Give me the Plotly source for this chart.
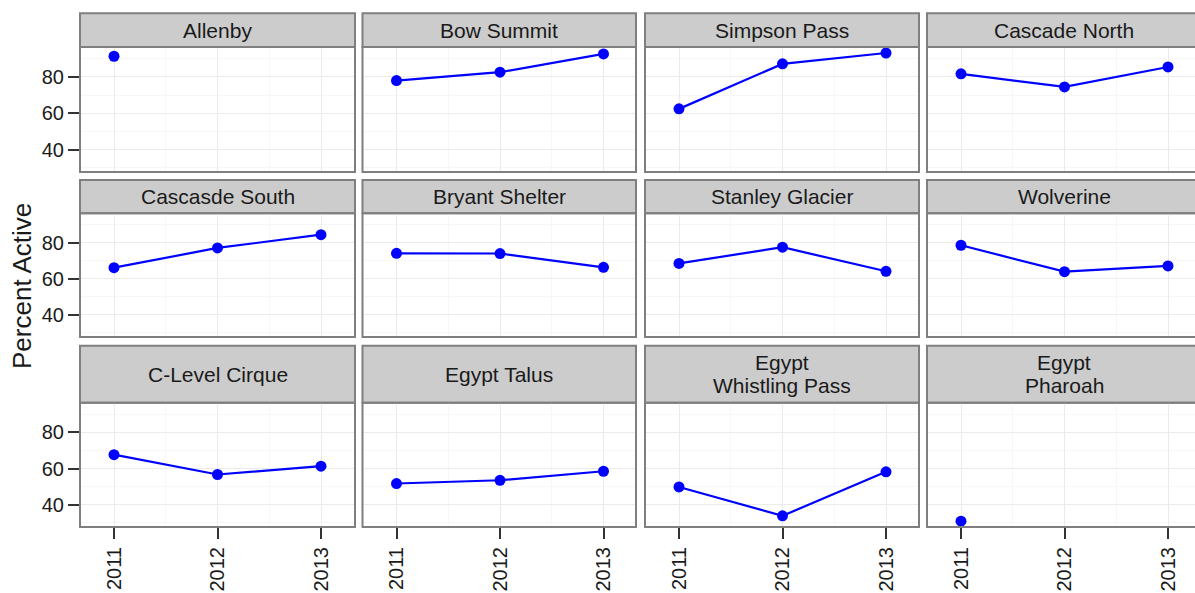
import plotly.graph_objects as go

# ---- data -------------------------------------------------------------
years = [2011, 2012, 2013]

site_names = [
    "Allenby", "Bow Summit", "Simpson Pass", "Cascade North",
    "Cascasde South", "Bryant Shelter", "Stanley Glacier", "Wolverine",
    "C-Level Cirque", "Egypt Talus", "Egypt\nWhistling Pass", "Egypt\nPharoah",
]

allenby = [91.4, None, None]
bow_summit = [78.0, 82.6, 92.7]
simpson_pass = [62.4, 87.2, 93.2]
cascade_north = [81.7, 74.5, 85.5]
cascade_south = [66.2, 77.2, 84.6]
bryant_shelter = [74.2, 74.1, 66.4]
stanley_glacier = [68.6, 77.6, 64.2]
wolverine = [78.7, 64.0, 67.2]
c_level_cirque = [67.7, 56.7, 61.3]
egypt_talus = [51.7, 53.5, 58.5]
egypt_whistling_pass = [49.8, 33.8, 58.2]
egypt_pharoah = [30.8, None, None]

site_values = [
    allenby, bow_summit, simpson_pass, cascade_north,
    cascade_south, bryant_shelter, stanley_glacier, wolverine,
    c_level_cirque, egypt_talus, egypt_whistling_pass, egypt_pharoah,
]

y_ticks = [40, 60, 80]
y_title = "Percent Active"

# ---- layout geometry (pixels) ----------------------------------------
W, H = 1195, 593
col_px = [(80, 355), (362.5, 636), (645, 919), (927, 1201)]
row_px = [(47, 172), (213.3, 337), (402.7, 527)]
strip_px = [(13.3, 47), (180, 213.3), (345.7, 402.7)]
px_per_year = 103.5
left_pad = 34
y_range = [27.6, 96.5]

FONT = "Liberation Sans, Arial, sans-serif"
BORDER = "#7F7F7F"
STRIP_FILL = "#CCCCCC"
GRID_MAJOR = "#EBEBEB"
GRID_MINOR = "#F7F7F7"
TICK_COLOR = "#333333"
MARK_COLOR = "#0000FF"

fig = go.Figure()
layout = dict(
    width=W, height=H,
    margin=dict(l=0, r=0, t=0, b=0),
    paper_bgcolor="white", plot_bgcolor="white",
    showlegend=False,
    font=dict(family=FONT, color="#1A1A1A"),
)
shapes = []
annotations = []


def fx(px):
    return px / W


def fy(px):
    return 1 - px / H


for i, (name, vals) in enumerate(zip(site_names, site_values)):
    r, c = divmod(i, 4)
    n = i + 1
    xk = "xaxis" if n == 1 else f"xaxis{n}"
    yk = "yaxis" if n == 1 else f"yaxis{n}"
    xr = "x" if n == 1 else f"x{n}"
    yr = "y" if n == 1 else f"y{n}"

    x0, x1 = col_px[c]
    x1_vis = min(x1, W)
    t0, t1 = row_px[r]
    s0, s1 = strip_px[r]

    x_lo = years[0] - left_pad / px_per_year
    x_hi = years[0] + (x1_vis - x0 - left_pad) / px_per_year

    layout[xk] = dict(
        domain=[fx(x0), fx(x1_vis)],
        range=[x_lo, x_hi],
        anchor=yr,
        tickvals=years,
        ticktext=[str(v) for v in years],
        showgrid=True, gridcolor=GRID_MAJOR, gridwidth=1,
        minor=dict(tickvals=[2011.5, 2012.5], showgrid=True,
                   gridcolor=GRID_MINOR, gridwidth=1, ticks=""),
        zeroline=False, showline=False,
        showticklabels=(r == 2),
        ticks="outside" if r == 2 else "",
        ticklen=11, tickwidth=2, tickcolor=TICK_COLOR,
        tickangle=-90,
        tickfont=dict(size=20, family=FONT, color="#1A1A1A"),
        fixedrange=True,
    )
    layout[yk] = dict(
        domain=[fy(t1), fy(t0)],
        range=y_range,
        anchor=xr,
        tickvals=y_ticks,
        showgrid=True, gridcolor=GRID_MAJOR, gridwidth=1,
        minor=dict(tickvals=[30, 50, 70, 90], showgrid=True,
                   gridcolor=GRID_MINOR, gridwidth=1, ticks=""),
        zeroline=False, showline=False,
        showticklabels=(c == 0),
        ticks="outside" if c == 0 else "",
        ticklen=11, tickwidth=2, tickcolor=TICK_COLOR,
        tickfont=dict(size=20, family=FONT, color="#1A1A1A"),
        fixedrange=True,
    )

    fig.add_trace(go.Scatter(
        x=years, y=vals, xaxis=xr, yaxis=yr,
        mode="lines+markers",
        line=dict(color=MARK_COLOR, width=2.2),
        marker=dict(color=MARK_COLOR, size=11),
        connectgaps=False, cliponaxis=False,
        hoverinfo="x+y",
    ))

    # panel border
    shapes.append(dict(type="rect", xref="paper", yref="paper",
                       x0=fx(x0), x1=fx(x1), y0=fy(t1), y1=fy(t0),
                       line=dict(color=BORDER, width=2),
                       fillcolor="rgba(0,0,0,0)", layer="above"))
    # strip header
    shapes.append(dict(type="rect", xref="paper", yref="paper",
                       x0=fx(x0), x1=fx(x1), y0=fy(s1), y1=fy(s0),
                       line=dict(color=BORDER, width=2),
                       fillcolor=STRIP_FILL, layer="below"))
    lines = name.split("\n")
    line_gap = 23
    mid = (s0 + s1) / 2
    for k, txt in enumerate(lines):
        off = (k - (len(lines) - 1) / 2) * line_gap
        annotations.append(dict(
            text=txt, xref="paper", yref="paper",
            x=fx((x0 + x1) / 2), y=fy(mid + off),
            xanchor="center", yanchor="middle", showarrow=False,
            font=dict(size=21, family=FONT, color="#1A1A1A"),
        ))

annotations.append(dict(
    text=y_title, xref="paper", yref="paper",
    x=fx(22), y=fy(286), xanchor="center", yanchor="middle",
    textangle=-90, showarrow=False,
    font=dict(size=26, family=FONT, color="#1A1A1A"),
))

layout["shapes"] = shapes
layout["annotations"] = annotations
fig.update_layout(**layout)

fig.write_html("out.html", config=dict(displayModeBar=False))
